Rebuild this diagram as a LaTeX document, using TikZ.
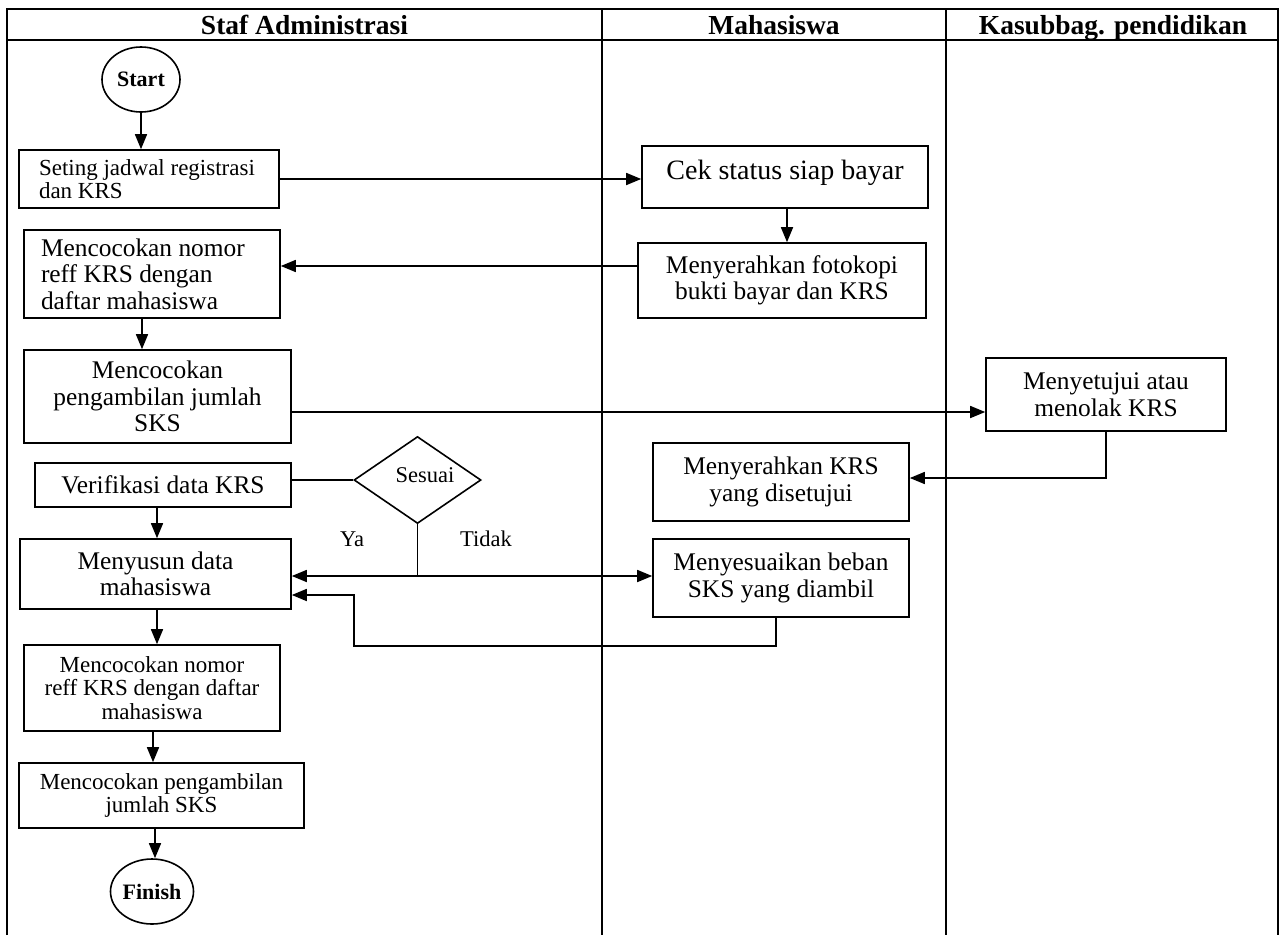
\documentclass[tikz,border=0pt]{standalone}
\usepackage{fontspec}
\setmainfont{Liberation Serif}
\usetikzlibrary{arrows.meta,shapes.geometric}
\newcommand{\fsz}[2]{\fontsize{#1}{#2}\selectfont}
\begin{document}
\begin{tikzpicture}[x=1pt,y=-1pt,
  line width=1.6pt,
  lane/.style={line width=1.8pt},
  arr/.style={-{Triangle[length=15pt,width=12pt]}},
  hdr/.style={font=\bfseries\fsz{27.5}{30}, inner sep=0pt},
  proc/.style={draw, rectangle, inner sep=0pt, align=center, font=\fsz{25.4}{26.5}},
  small/.style={font=\fsz{23}{23.5}},
  term/.style={draw, ellipse, inner sep=0pt, minimum width=78, minimum height=65, font=\bfseries\fsz{22}{24}},
  lbl/.style={inner sep=0pt, font=\fsz{22.5}{24}}
]
\useasboundingbox (0,0) rectangle (1280,935);

% swimlane frame
\draw[lane] (7,935) -- (7,9) -- (1278,9) -- (1278,935);
\draw[lane] (7,40) -- (1278,40);
\draw[lane] (602,9) -- (602,935);
\draw[lane] (946,9) -- (946,935);

\node[hdr, anchor=base] (h1) at (304.5,34) {Staf Administrasi};
\node[hdr, anchor=base] (h2) at (774,34) {Mahasiswa};
\node[hdr, anchor=base] (h3) at (1113,34) {Kasubbag. pendidikan};

% Staf Administrasi lane
\node[term] (start) at (141,79.5) {Start};
\node[proc, small, align=flush left, text width=220, minimum width=260, minimum height=58] (seting) at (149,179) {Seting jadwal registrasi\\dan KRS};
\node[proc, align=flush left, text width=222, minimum width=256, minimum height=88] (nomor1) at (152,274) {Mencocokan nomor\\reff KRS dengan\\daftar mahasiswa};
\node[proc, minimum width=267, minimum height=93] (ambil1) at (157.5,396.5) {Mencocokan\\pengambilan jumlah\\SKS};
\node[proc, minimum width=256, minimum height=44] (verif) at (163,485) {Verifikasi data KRS};
\node[draw, diamond, inner sep=0pt, minimum width=127, minimum height=87] (dec) at (417.5,480) {};
\node[lbl] (sesuai) at (425,475) {Sesuai};
\node[lbl] (ya) at (352,539) {Ya};
\node[lbl] (tidak) at (486,539) {Tidak};
\node[proc, minimum width=271, minimum height=70] (susun) at (155.5,574) {Menyusun data\\mahasiswa};
\node[proc, small, minimum width=256, minimum height=86] (nomor2) at (152,688) {Mencocokan nomor\\reff KRS dengan daftar\\mahasiswa};
\node[proc, small, minimum width=285, minimum height=65] (ambil2) at (161.5,795.5) {Mencocokan pengambilan\\jumlah SKS};
\node[term] (finish) at (152,891.5) {Finish};

% Mahasiswa lane
\node[proc, font=\fsz{28}{30}, text height=19pt, text depth=14pt, minimum width=286, minimum height=62] (cek) at (785,177) {Cek status siap bayar};
\node[proc, minimum width=288, minimum height=75] (fotokopi) at (782,280.5) {Menyerahkan fotokopi\\bukti bayar dan KRS};
\node[proc, minimum width=256, minimum height=78] (krs) at (781,482) {Menyerahkan KRS\\yang disetujui};
\node[proc, minimum width=256, minimum height=78] (beban) at (781,578) {Menyesuaikan beban\\SKS yang diambil};

% Kasubbag. pendidikan lane
\node[proc, minimum width=240, minimum height=73] (setuju) at (1106,394.5) {Menyetujui atau\\menolak KRS};

% flow
\draw[arr] (start.south) -- (start.south |- seting.north);
\draw[arr] (seting.east) -- (seting.east -| cek.west);
\draw[arr] ([xshift=2pt]cek.south) -- ([xshift=2pt]cek.south |- fotokopi.north);
\draw[arr] ([yshift=14.5pt]fotokopi.west) -- ([yshift=14.5pt]fotokopi.west -| nomor1.east);
\draw[arr] ([xshift=-10pt]nomor1.south) -- ([xshift=-10pt]nomor1.south |- ambil1.north);
\draw[arr] ([yshift=-15.5pt]ambil1.east) -- ([yshift=-15.5pt]ambil1.east -| setuju.west);
\draw[arr] (setuju.south) |- ([yshift=4pt]krs.east);
\draw (dec.west) -- (dec.west -| verif.east);
\draw[arr] ([xshift=-6pt]verif.south) -- ([xshift=-6pt]verif.south |- susun.north);
\coordinate (j) at (dec.south |- 0,576);
\draw (dec.south) -- (j);
\draw[arr] (j) -- (j -| susun.east);
\draw[arr] (j) -- (j -| beban.west);
\coordinate (loopL) at (354,646);
\draw[arr] ([xshift=-5pt]beban.south) |- (loopL) |- ([yshift=-21pt]susun.east);
\draw[arr] ([xshift=1.5pt]susun.south) -- ([xshift=1.5pt]susun.south |- nomor2.north);
\draw[arr] ([xshift=1pt]nomor2.south) -- ([xshift=1pt]nomor2.south |- ambil2.north);
\draw[arr] ([xshift=-6.5pt]ambil2.south) -- ([xshift=-6.5pt]ambil2.south |- finish.north);
\end{tikzpicture}
\end{document}
